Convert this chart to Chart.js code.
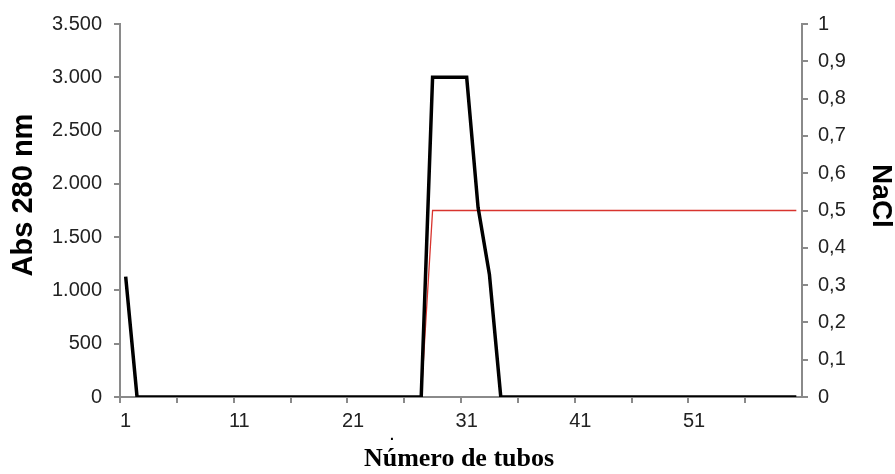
<!DOCTYPE html>
<html lang="es">
<head>
    <meta charset="UTF-8" />
    <title>Cromatografía - Abs 280 nm y NaCl</title>
    <script src="https://cdn.jsdelivr.net/npm/chart.js"></script>
    <style>
        html, body { margin: 0; padding: 0; background: #fff; }
        #wrap { position: relative; width: 895px; height: 474px; }
    </style>
</head>
<body>

<div id="wrap">
    <canvas id="chart"></canvas>
</div>

<script>
    // Tubos 1..60
    const tubos = Array.from({ length: 60 }, (_, i) => String(i + 1));

    // Absorbancia a 280 nm por tubo
    const abs280 = [
        1130, 0, 0, 0, 0, 0, 0, 0, 0, 0,
        0, 0, 0, 0, 0, 0, 0, 0, 0, 0,
        0, 0, 0, 0, 0, 0, 0, 3000, 3000, 3000,
        3000, 1780, 1150, 0, 0, 0, 0, 0, 0, 0,
        0, 0, 0, 0, 0, 0, 0, 0, 0, 0,
        0, 0, 0, 0, 0, 0, 0, 0, 0, 0
    ];

    // Concentración de NaCl (el gradiente empieza en el tubo 27)
    const nacl = [
        null, null, null, null, null, null, null, null, null, null,
        null, null, null, null, null, null, null, null, null, null,
        null, null, null, null, null, null, 0, 0.5, 0.5, 0.5,
        0.5, 0.5, 0.5, 0.5, 0.5, 0.5, 0.5, 0.5, 0.5, 0.5,
        0.5, 0.5, 0.5, 0.5, 0.5, 0.5, 0.5, 0.5, 0.5, 0.5,
        0.5, 0.5, 0.5, 0.5, 0.5, 0.5, 0.5, 0.5, 0.5, 0.5
    ];

    const absTicks = { min: 0, max: 3500, step: 500 };
    const naclTicks = { min: 0, max: 1, step: 0.1 };

    const ejeGris = '#8a8a8a';
    const tickFont = { family: 'Arial, "Liberation Sans", sans-serif', size: 20 };

    // titulos de los ejes dibujados a mano
    const titulos = {
        id: 'titulos',
        afterDraw(chart) {
            const ctx = chart.ctx;
            ctx.save();
            ctx.fillStyle = '#000';
            ctx.textAlign = 'center';
            ctx.textBaseline = 'middle';

            ctx.font = 'bold 29px Arial, "Liberation Sans", sans-serif';
            ctx.save();
            ctx.translate(24, 195);
            ctx.rotate(-Math.PI / 2);
            ctx.fillText('Abs 280 nm', 0, 0);
            ctx.restore();

            ctx.font = 'bold 28px Arial, "Liberation Sans", sans-serif';
            ctx.save();
            ctx.translate(881, 196);
            ctx.rotate(Math.PI / 2);
            ctx.fillText('NaCl', 0, 0);
            ctx.restore();

            ctx.font = 'bold 26px "Liberation Serif", "Times New Roman", serif';
            ctx.fillText('Número de tubos', 459, 459);

            ctx.font = 'bold 14px Arial, sans-serif';
            ctx.fillText('.', 392, 436);
            ctx.restore();
        }
    };

    function miles(v) {
        return String(v).replace(/\B(?=(\d{3})+(?!\d))/g, '.');
    }

    new Chart(document.getElementById('chart'), {
        type: 'line',
        data: {
            labels: tubos,
            datasets: [
                {
                    label: 'Abs 280 nm',
                    data: abs280,
                    yAxisID: 'y',
                    borderColor: '#000',
                    borderWidth: 3.5,
                    pointRadius: 0,
                    tension: 0,
                    borderJoinStyle: 'miter',
                    order: 0
                },
                {
                    label: 'NaCl',
                    data: nacl,
                    yAxisID: 'y1',
                    borderColor: '#d8342e',
                    borderWidth: 1.3,
                    pointRadius: 0,
                    tension: 0,
                    spanGaps: false,
                    order: 1
                }
            ]
        },
        options: {
            responsive: true,
            maintainAspectRatio: false,
            animation: false,
            layout: { padding: { top: 21, left: 0, right: 0, bottom: 0 } },
            plugins: {
                legend: { display: false },
                tooltip: { enabled: false }
            },
            scales: {
                x: {
                    type: 'category',
                    offset: true,
                    border: { color: ejeGris, width: 2 },
                    grid: {
                        offset: true,
                        drawOnChartArea: false,
                        tickLength: 6,
                        lineWidth: 2,
                        color: (c) => (c.index % 5 === 0 ? ejeGris : 'rgba(0,0,0,0)')
                    },
                    ticks: {
                        autoSkip: false,
                        maxRotation: 0,
                        padding: 6,
                        color: '#222',
                        font: tickFont,
                        callback: (val, i) => (i % 10 === 0 ? tubos[i] : '')
                    },
                    afterFit: (s) => { s.height = 474 - 397; }
                },
                y: {
                    position: 'left',
                    min: absTicks.min,
                    max: absTicks.max,
                    border: { color: ejeGris, width: 2 },
                    grid: { drawOnChartArea: false, tickLength: 6, lineWidth: 2, color: ejeGris },
                    ticks: {
                        stepSize: absTicks.step,
                        padding: 12,
                        color: '#222',
                        font: tickFont,
                        callback: (v) => miles(v)
                    },
                    afterFit: (s) => { s.width = 120; }
                },
                y1: {
                    position: 'right',
                    min: naclTicks.min,
                    max: naclTicks.max,
                    border: { color: ejeGris, width: 2 },
                    grid: { drawOnChartArea: false, tickLength: 6, lineWidth: 2, color: ejeGris },
                    ticks: {
                        stepSize: naclTicks.step,
                        padding: 10,
                        color: '#222',
                        font: tickFont,
                        callback: (v) => String(Math.round(v * 10) / 10).replace('.', ',')
                    },
                    afterFit: (s) => { s.width = 895 - 802; }
                }
            }
        },
        plugins: [titulos]
    });
</script>
</body>
</html>
